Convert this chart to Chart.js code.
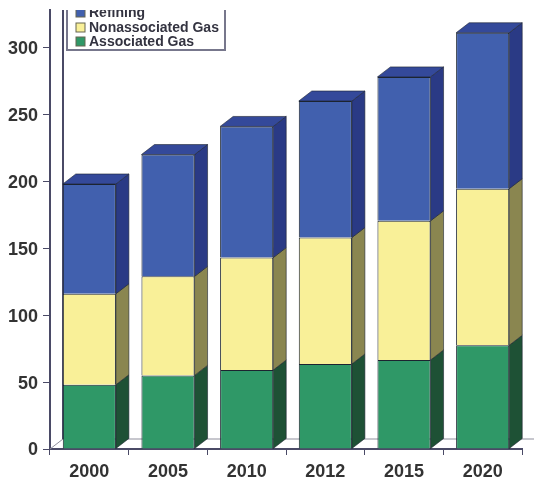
<!DOCTYPE html>
<html lang="en">
<head>
  <meta charset="UTF-8">
  <title>Stacked Gas Chart</title>
  <script src="https://cdn.jsdelivr.net/npm/chart.js"></script>
  <style>
    html, body { margin: 0; padding: 0; background: #fff; }
    #chart { display: block; filter: blur(0.4px); }
  </style>
</head>
<body>
<canvas id="chart" width="534" height="482"></canvas>

<script>
  const years = ['2000', '2005', '2010', '2012', '2015', '2020'];
  const associatedGas = [48, 55, 59, 63.5, 66.5, 77.5];
  const nonassociatedGas = [68, 74, 84, 94.5, 104, 117];
  const refining = [82, 91, 98, 102, 107.5, 116.5];

  const fontName = '"Liberation Sans", Arial, sans-serif';
  const axisColor = '#4a4a66';
  const depthX = 13;
  const depthY = 10;

  function face(ctx, pts, color) {
    ctx.beginPath();
    ctx.moveTo(pts[0][0], pts[0][1]);
    pts.slice(1).forEach(p => ctx.lineTo(p[0], p[1]));
    ctx.closePath();
    ctx.fillStyle = color;
    ctx.fill();
    ctx.strokeStyle = '#1c2430';
    ctx.lineWidth = 0.6;
    ctx.stroke();
  }

  // back wall, floor and the side/top faces of each bar
  const depthPlugin = {
    id: 'depth',
    beforeDatasetsDraw(chart) {
      const { ctx, chartArea: a } = chart;
      ctx.save();
      ctx.strokeStyle = '#8f8f9c';
      ctx.lineWidth = 1;
      ctx.beginPath();
      ctx.moveTo(a.left, a.bottom);
      ctx.lineTo(a.left + depthX, a.bottom - depthY);
      ctx.lineTo(534, a.bottom - depthY);
      ctx.stroke();
      ctx.strokeStyle = axisColor;
      ctx.lineWidth = 2;
      ctx.beginPath();
      ctx.moveTo(a.left + depthX, a.top);
      ctx.lineTo(a.left + depthX, a.bottom - depthY);
      ctx.stroke();

      chart.data.datasets.forEach((ds, i) => {
        chart.getDatasetMeta(i).data.forEach(bar => {
          const r = bar.x + bar.width / 2;
          const l = bar.x - bar.width / 2;
          face(ctx, [[r, bar.y], [r + depthX, bar.y - depthY], [r + depthX, bar.base - depthY], [r, bar.base]], ds.sideColor);
          if (i === chart.data.datasets.length - 1) {
            face(ctx, [[l, bar.y], [l + depthX, bar.y - depthY], [r + depthX, bar.y - depthY], [r, bar.y]], ds.topColor);
          }
        });
      });
      ctx.restore();
    },
    // legend sits over the wall, cut off at the top like the original
    afterDraw(chart) {
      const { ctx, chartArea: a } = chart;
      ctx.save();
      ctx.beginPath();
      ctx.rect(0, a.top, 534, 482);
      ctx.clip();
      ctx.fillStyle = '#fff';
      ctx.strokeStyle = '#77778c';
      ctx.lineWidth = 2;
      ctx.fillRect(67, 0, 158, 50);
      ctx.strokeRect(67, 0, 158, 50);
      const rows = [[chart.data.datasets[2], 12], [chart.data.datasets[1], 27], [chart.data.datasets[0], 41]];
      ctx.font = 'bold 14px ' + fontName;
      ctx.textBaseline = 'middle';
      rows.forEach(([ds, y]) => {
        ctx.fillStyle = ds.backgroundColor;
        ctx.strokeStyle = '#666650';
        ctx.lineWidth = 1;
        ctx.fillRect(76, y - 4, 9, 9);
        ctx.strokeRect(76, y - 4, 9, 9);
        ctx.fillStyle = '#333340';
        ctx.fillText(ds.label, 89, y + 1);
      });
      ctx.restore();
    }
  };

  new Chart(document.getElementById('chart'), {
    type: 'bar',
    data: {
      labels: years,
      datasets: [
        { label: 'Associated Gas', data: associatedGas, backgroundColor: '#2f9867', sideColor: '#1e5135', topColor: '#1e5135' },
        { label: 'Nonassociated Gas', data: nonassociatedGas, backgroundColor: '#f9f098', sideColor: '#8a8650', topColor: '#8a8650' },
        { label: 'Refining', data: refining, backgroundColor: '#4160ae', sideColor: '#2a3a85', topColor: '#34499a' }
      ].map(ds => Object.assign(ds, {
        borderColor: '#1c2430',
        borderWidth: 1,
        categoryPercentage: 1,
        barPercentage: 0.675
      }))
    },
    options: {
      responsive: false,
      animation: false,
      layout: { padding: { top: 10, right: 12 } },
      plugins: { legend: { display: false }, tooltip: { enabled: false } },
      scales: {
        x: {
          stacked: true,
          afterFit(scale) { scale.height = 33; },
          border: { color: axisColor, width: 2 },
          grid: { drawOnChartArea: false, color: axisColor, tickLength: 6 },
          ticks: { color: '#333333', padding: 6, font: { family: fontName, size: 18, weight: 'bold' } }
        },
        y: {
          stacked: true,
          min: 0,
          max: 328,
          afterFit(scale) { scale.width = 50; scale.paddingTop = 0; scale.paddingBottom = 0; },
          afterBuildTicks(scale) { scale.ticks = scale.ticks.filter(t => t.value % 50 === 0); },
          border: { color: axisColor, width: 2 },
          grid: { drawOnChartArea: false, color: axisColor, tickLength: 7 },
          ticks: { stepSize: 50, color: '#333333', padding: 5, labelOffset: 1.5, font: { family: fontName, size: 18, weight: 'bold' } }
        }
      }
    },
    plugins: [depthPlugin]
  });
</script>
</body>
</html>
